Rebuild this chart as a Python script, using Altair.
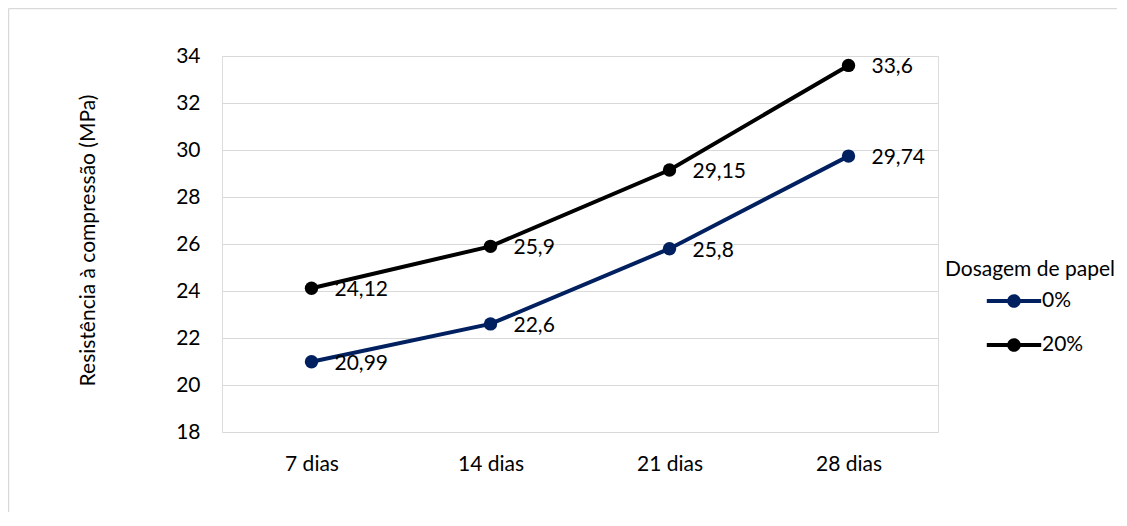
import altair as alt
import pandas as pd

categories = ["7 dias", "14 dias", "21 dias", "28 dias"]
series_names = ["0%", "20%"]
values_0 = [20.99, 22.6, 25.8, 29.74]
values_20 = [24.12, 25.9, 29.15, 33.6]
y_ticks = [18, 20, 22, 24, 26, 28, 30, 32, 34]
colors = ["#002060", "#000000"]

rows = []
for s, vals in zip(series_names, [values_0, values_20]):
    for c, v in zip(categories, vals):
        rows.append({"dias": c, "dosagem": s, "valor": v,
                     "rotulo": f"{v:g}".replace(".", ",")})
df = pd.DataFrame(rows)

FONT = "Lato"
sym_path = ("M-1.6,-0.118H-0.3V0.118H-1.6Z "
            "M0.3,-0.118H1.6V0.118H0.3Z "
            "M-0.4,0A0.4,0.4 0 1,1 0.4,0A0.4,0.4 0 1,1 -0.4,0Z")

x_enc = alt.X("dias:N", sort=categories,
              scale=alt.Scale(paddingInner=0, paddingOuter=0, align=0.5),
              axis=alt.Axis(title=None, labelAngle=0, ticks=False, domain=False,
                            grid=False, labelPadding=21, labelFontSize=21,
                            labelFont=FONT, labelColor="#000000"))
y_enc = alt.Y("valor:Q",
              scale=alt.Scale(domain=[18, 34], nice=False, zero=False),
              axis=alt.Axis(values=y_ticks, title="Resistência à compressão (MPa)",
                            ticks=False, domain=False, grid=True,
                            gridColor="#d9d9d9", gridWidth=1,
                            labelPadding=22, labelFontSize=21, labelFont=FONT,
                            labelColor="#000000",
                            titleFont=FONT, titleFontSize=21,
                            titleFontWeight="normal", titleColor="#000000",
                            titleX=-134, titleY=184, titleAngle=-90,
                            titleBaseline="middle", titleAlign="center"))
color_enc = alt.Color("dosagem:N", sort=series_names,
                      scale=alt.Scale(domain=series_names, range=colors),
                      legend=alt.Legend(title="Dosagem de papel", orient="none",
                                        legendX=723, legendY=203,
                                        symbolType=sym_path, symbolSize=1156,
                                        symbolStrokeWidth=0, symbolOpacity=1,
                                        symbolOffset=52, labelOffset=11,
                                        rowPadding=17, titlePadding=4,
                                        padding=0,
                                        titleFont=FONT, titleFontSize=21,
                                        titleFontWeight="normal",
                                        titleColor="#000000",
                                        labelFont=FONT, labelFontSize=21,
                                        labelColor="#000000"))

base = alt.Chart(df)
line = base.mark_line(strokeWidth=4).encode(x=x_enc, y=y_enc, color=color_enc)
pts = base.mark_point(filled=True, size=180, opacity=1).encode(x=x_enc, y=y_enc, color=color_enc)
labels = base.mark_text(align="left", baseline="middle", dx=23, dy=2,
                        fontSize=21, font=FONT, color="#000000").encode(
    x=x_enc, y=y_enc, text="rotulo:N")

edge = alt.Chart(pd.DataFrame({"k": [0]}))
top_edge = edge.mark_rule(stroke="#d9d9d9", strokeWidth=1.5, clip=False).encode(
    x=alt.value(-213.5), x2=alt.value(895), y=alt.value(-47.5))
left_edge = edge.mark_rule(stroke="#d9d9d9", strokeWidth=1.5, clip=False).encode(
    x=alt.value(-213.5), y=alt.value(-47.5), y2=alt.value(460))

chart = alt.layer(top_edge, left_edge, line, pts, labels).properties(
    width=716, height=376,
    autosize=alt.AutoSizeParams(type="none"),
    padding={"left": 214, "top": 48, "right": 181, "bottom": 80},
).configure_view(stroke=None).configure(background="white")

chart.save("out.html", embed_options={"renderer": "svg", "actions": False})
